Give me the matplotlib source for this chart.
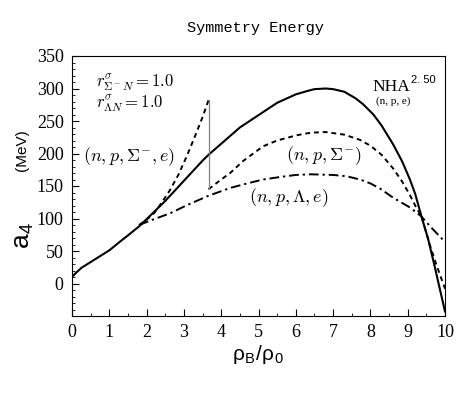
import numpy as np
import matplotlib.pyplot as plt
from matplotlib.ticker import MultipleLocator

plt.rcParams["mathtext.fontset"] = "cm"
plt.rcParams["font.family"] = "Liberation Serif"

# solid: (n, p, e)
x_npe = [0, 0.1, 0.25, 0.5, 0.75, 1.0, 1.3, 1.5, 1.8, 2.0, 2.5, 3.0, 3.5,
         3.66, 4.0, 4.24, 4.5, 5.0, 5.13, 5.5, 6.0, 6.3, 6.5, 6.8, 7.0,
         7.3, 7.6, 7.8, 8.08, 8.3, 8.61, 8.85, 9.06, 9.2, 9.37, 9.55, 9.72,
         9.86, 10.0]
y_npe = [10, 16, 24, 33, 42, 51, 65, 74, 88, 99, 127, 158, 189, 198, 215,
         227, 240, 259, 264, 278, 291, 296, 299, 300, 299, 295, 285, 276,
         260, 243, 214, 188, 160, 138, 103, 68, 27, -8, -43]

# dashed: (n, p, Sigma-, e) branch, then (n, p, Sigma-)
x_sig_e = [1.8, 2.0, 2.2, 2.4, 2.63, 2.85, 3.07, 3.3, 3.5, 3.66]
y_sig_e = [90, 98, 108, 124, 144, 167, 195, 227, 256, 282]
x_sig = [3.66, 4.0, 4.24, 4.6, 5.12, 5.5, 6.02, 6.4, 6.8, 7.3, 7.72, 8.0,
         8.3, 8.61, 8.85, 9.06, 9.2, 9.37, 9.6, 9.78, 9.9, 10.0]
y_sig = [145, 160, 170, 189, 211, 220, 228, 232, 233, 229, 221, 212, 198,
         177, 157, 136, 120, 103, 58, 27, 8, -8]

# dash-dot: (n, p, Lambda, e)
x_lam = [1.8, 2.2, 2.63, 3.1, 3.66, 4.24, 4.7, 5.12, 5.6, 6.0, 6.4, 7.0,
         7.36, 7.72, 8.0, 8.26, 8.61, 9.06, 9.37, 9.6, 9.8, 10.0]
y_lam = [90, 99, 108, 121, 135, 147, 154, 160, 164, 167, 168, 167, 165,
         160, 154, 146, 132, 117, 103, 88, 76, 64]

fig = plt.figure(figsize=(4.74, 3.94), dpi=100)
ax = fig.add_axes([72 / 474, 1 - 316 / 394, (445 - 72) / 474, (316 - 56) / 394])

ax.plot(x_npe, y_npe, color="black", lw=1.5)
ax.plot(x_sig_e, y_sig_e, color="black", lw=1.4, ls=(0, (2.5, 2)))
ax.plot(x_sig, y_sig, color="black", lw=1.4, ls=(0, (2.5, 2)))
ax.plot(x_lam, y_lam, color="black", lw=1.4, ls=(0, (5, 2, 1.2, 2)))
ax.plot([3.66, 3.66], [145, 282], color="gray", lw=0.9)

ax.set_xlim(0, 10)
ax.set_ylim(-50, 350)
ax.xaxis.set_major_locator(MultipleLocator(1))
ax.xaxis.set_minor_locator(MultipleLocator(0.5))
ax.set_yticks([0, 50, 100, 150, 200, 250, 300, 350])
ax.yaxis.set_minor_locator(MultipleLocator(10))
ax.tick_params(which="both", direction="in", top=False, right=False)
ax.tick_params(which="major", length=5, labelsize=13, pad=6)
ax.tick_params(which="minor", length=2.5)

ax.set_xlabel(r"ρ$_\mathregular{B}$/ρ$_\mathregular{0}$", fontsize=15,
              family="Liberation Sans", labelpad=1)
fig.text(24 / 474, 1 - 235 / 394, r"a$_\mathregular{4}$", fontsize=19,
         family="Liberation Sans", rotation=90, ha="center", va="center")
fig.text(22 / 474, 1 - 150 / 394, "(MeV)", fontsize=11,
         family="Liberation Sans", rotation=90, ha="center", va="center")

fig.text(255 / 474, 1 - 28 / 394, "Symmetry Energy", fontsize=11,
         family="Liberation Mono", ha="center", va="center")

ax.text(0.65, 309, r"$r^{\sigma}_{\Sigma^-N} = 1.0$", fontsize=12, va="center")
ax.text(0.65, 277, r"$r^{\sigma}_{\Lambda N} = 1.0$", fontsize=12, va="center")
ax.text(0.3, 195, r"$(n, p, \Sigma^{-}, e)$", fontsize=13, va="center")
ax.text(6.75, 197, r"$(n, p, \Sigma^{-})$", fontsize=13, ha="center", va="center")
ax.text(5.8, 132, r"$(n, p, \Lambda, e)$", fontsize=13, ha="center", va="center")
ax.text(8.05, 303, "NHA", fontsize=12.5, va="center")
ax.text(9.08, 313, "2. 50", fontsize=8, family="Liberation Sans", va="center")
ax.text(8.15, 280, "(n, p, e)", fontsize=8, va="center")

fig.savefig("out.png", dpi=100)
